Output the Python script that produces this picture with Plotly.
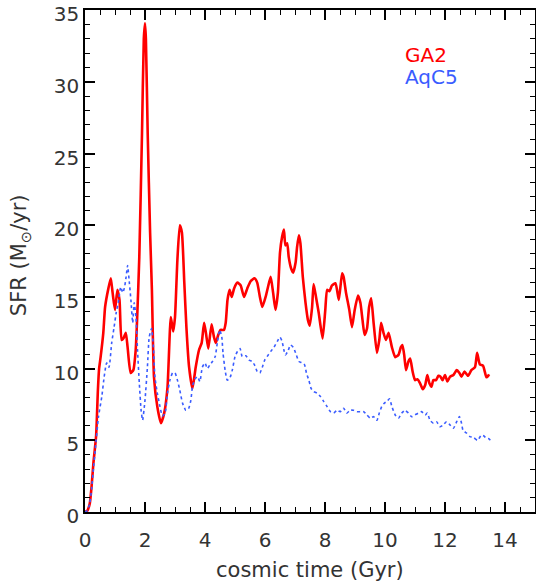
import plotly.graph_objects as go

# GA2 (red, solid)
ga2_t = [0.0, 0.08, 0.16, 0.22, 0.28, 0.37, 0.43, 0.47, 0.52, 0.61, 0.67, 0.78, 0.86, 0.92, 1.0, 1.08, 1.15,
         1.22, 1.28, 1.36, 1.42, 1.52, 1.61, 1.69, 1.74, 1.81, 1.9, 1.96, 2.0, 2.03, 2.09, 2.17, 2.23, 2.3, 2.41,
         2.53, 2.64, 2.75, 2.86, 2.94, 3.0, 3.08, 3.16, 3.23, 3.31, 3.38, 3.47, 3.58, 3.69, 3.8, 3.89, 3.97, 4.03,
         4.11, 4.22, 4.3, 4.36, 4.44, 4.52, 4.63, 4.69, 4.75, 4.82, 4.89, 4.97, 5.08, 5.19, 5.3, 5.41, 5.52, 5.65,
         5.74, 5.83, 5.91, 6.02, 6.1, 6.19, 6.27, 6.35, 6.43, 6.5, 6.57, 6.63, 6.68, 6.74, 6.79, 6.87, 6.94, 7.02,
         7.07, 7.13, 7.18, 7.26, 7.35, 7.43, 7.49, 7.57, 7.62, 7.7, 7.79, 7.92, 8.01, 8.07, 8.15, 8.23, 8.35, 8.46,
         8.57, 8.62, 8.7, 8.81, 8.9, 8.99, 9.1, 9.18, 9.25, 9.32, 9.4, 9.47, 9.54, 9.62, 9.73, 9.81, 9.87, 9.95,
         10.03, 10.12, 10.23, 10.34, 10.45, 10.53, 10.58, 10.64, 10.7, 10.78, 10.84, 10.92, 11.0, 11.08, 11.17,
         11.26, 11.34, 11.41, 11.48, 11.55, 11.61, 11.7, 11.78, 11.85, 11.92, 12.0, 12.08, 12.17, 12.28, 12.39,
         12.48, 12.55, 12.65, 12.77, 12.88, 13.0, 13.07, 13.16, 13.27, 13.38, 13.44, 13.47]
ga2_sfr = [0.0, 0.1, 0.6, 1.8, 3.4, 5.3, 8.5, 10.0, 10.8, 12.5, 14.3, 15.6, 16.3, 15.3, 14.1, 15.5, 14.8,
           12.0, 12.1, 12.5, 11.5, 9.7, 9.9, 11.3, 13.6, 17.8, 26.4, 33.0, 34.1, 33.0, 26.4, 19.5, 15.5, 9.4, 7.35,
           6.2, 6.9, 8.7, 13.6, 12.6, 13.6, 17.6, 20.0, 19.5, 16.0, 12.9, 10.1, 8.6, 10.1, 11.3, 11.8, 13.2, 12.5,
           11.4, 13.1, 12.2, 11.8, 12.35, 12.7, 12.7, 13.2, 14.8, 15.5, 15.0, 15.6, 16.0, 15.8, 15.0, 15.6, 16.1, 16.3,
           16.0, 15.0, 14.3, 15.0, 15.7, 16.4, 15.3, 14.1, 15.3, 18.1, 19.2, 19.7, 18.6, 18.75, 17.8, 17.0, 16.7, 17.4,
           18.5, 19.3, 18.75, 16.4, 14.6, 13.4, 13.0, 14.3, 15.9, 15.0, 13.9, 12.1, 14.1, 15.5, 15.4, 15.8, 15.96, 14.8,
           16.65, 16.4, 15.3, 14.1, 12.9, 14.1, 15.1, 14.6, 13.4, 12.35, 12.8, 14.3, 14.9, 13.2, 11.1, 12.0, 13.2, 12.5,
           12.0, 12.5, 11.5, 10.8, 10.96, 11.5, 11.65, 10.96, 9.9, 10.5, 10.7, 9.8, 9.2, 9.26, 8.98,
           8.56, 8.86, 9.56, 8.98, 8.74, 9.2, 9.2, 9.5, 9.44, 9.2, 9.56, 9.1, 9.44, 9.56, 9.9,
           9.7, 9.44, 9.8, 9.5, 9.9, 10.1, 11.1, 10.3, 10.2, 9.4, 9.5, 9.6]

# AqC5 (blue, dotted)
aqc5_t = [0.0, 0.08, 0.16, 0.22, 0.28, 0.34, 0.45, 0.56, 0.64, 0.72, 0.8, 0.89, 0.97, 1.04, 1.11, 1.19, 1.26,
          1.32, 1.37, 1.42, 1.48, 1.53, 1.59, 1.64, 1.7, 1.75, 1.81, 1.87, 1.92, 2.0, 2.08, 2.14, 2.22, 2.28, 2.33,
          2.41, 2.5, 2.58, 2.67, 2.75, 2.83, 2.92, 3.0, 3.08, 3.16, 3.25, 3.36, 3.45, 3.53, 3.58, 3.67, 3.75, 3.83,
          3.91, 4.0, 4.08, 4.16, 4.25, 4.34, 4.41, 4.49, 4.56, 4.6, 4.67, 4.74, 4.82, 4.91, 5.0, 5.08, 5.17, 5.24,
          5.36, 5.47, 5.57, 5.65, 5.74, 5.83, 5.91, 5.99, 6.07, 6.19, 6.3, 6.41, 6.5, 6.57, 6.63, 6.68, 6.76, 6.85,
          6.94, 7.02, 7.13, 7.24, 7.32, 7.38, 7.46, 7.54, 7.62, 7.73, 7.85, 7.96, 8.07, 8.18, 8.29, 8.4, 8.51, 8.62,
          8.73, 8.84, 8.95, 9.06, 9.18, 9.29, 9.4, 9.51, 9.62, 9.73, 9.81, 9.89, 9.98, 10.06, 10.15, 10.23, 10.34,
          10.45, 10.56, 10.67, 10.78, 10.89, 11.0, 11.11, 11.22, 11.34, 11.41, 11.5, 11.61, 11.72, 11.83, 11.94,
          12.05, 12.17, 12.28, 12.39, 12.48, 12.55, 12.6, 12.72, 12.83, 12.95, 13.08, 13.22, 13.3, 13.38, 13.47, 13.55]
aqc5_sfr = [0.0, 0.1, 0.6, 1.6, 3.0, 4.3, 6.65, 8.05, 9.44, 10.4, 10.1, 11.8, 12.9, 13.9, 14.6, 15.7, 15.3,
            15.7, 16.4, 17.2, 15.96, 14.8, 13.2, 14.6, 13.6, 11.3, 9.0, 7.1, 6.4, 7.8, 10.1, 12.2, 12.8, 11.5, 9.44,
            8.3, 7.35, 6.7, 6.9, 8.3, 9.2, 9.7, 9.7, 9.2, 8.5, 7.6, 7.1, 7.2, 7.8, 8.75, 9.3, 9.44, 9.1,
            10.1, 10.4, 10.0, 10.26, 10.5, 10.84, 11.8, 12.7, 12.2, 11.1, 9.9, 9.2, 9.3, 9.9, 10.84, 11.2, 11.4, 10.84,
            10.9, 10.6, 10.5, 10.26, 9.8, 9.7, 10.1, 10.6, 10.84, 11.2, 11.5, 11.9, 12.2, 11.9, 11.3, 10.96, 11.2, 11.65,
            11.5, 11.1, 10.5, 10.4, 10.26, 9.7, 9.2, 8.6, 8.4, 8.3, 8.05, 7.7, 7.35, 7.0, 6.9, 7.1, 7.0, 7.24,
            6.9, 7.1, 7.1, 7.0, 7.0, 7.0, 6.77, 6.54, 6.65, 6.4, 6.9, 7.35, 7.6, 7.7, 7.9, 7.35, 6.77,
            6.54, 6.9, 7.1, 6.9, 6.65, 6.77, 6.9, 7.0, 6.77, 6.9, 6.4, 6.2, 6.3, 5.95, 6.07,
            6.3, 6.07, 5.84, 6.3, 6.65, 6.2, 5.7, 5.5, 5.26, 5.2, 5.0, 5.37, 5.3, 5.14, 5.1, 4.9]

assert len(ga2_t) == len(ga2_sfr), (len(ga2_t), len(ga2_sfr))
assert len(aqc5_t) == len(aqc5_sfr), (len(aqc5_t), len(aqc5_sfr))

x_range = [0, 15]
y_range = [0, 35.02]
x_major, x_minor = 2, 0.5
y_major, y_minor = 5, 1

FONT = "DejaVu Sans"
TXT = "#333333"

fig = go.Figure()
fig.add_trace(go.Scatter(x=ga2_t, y=ga2_sfr, mode="lines", name="GA2",
                         line=dict(color="#ff0000", width=2.6, shape="spline", smoothing=0.5)))
fig.add_trace(go.Scatter(x=aqc5_t, y=aqc5_sfr, mode="lines", name="AqC5",
                         line=dict(color="#3a5cff", width=1.6, dash="dot", shape="spline", smoothing=0.5)))
# invisible copies that carry the tick-only axes (bottom/left and top/right)
for xa, ya in (("x2", "y2"), ("x3", "y3")):
    fig.add_trace(go.Scatter(x=ga2_t, y=ga2_sfr, xaxis=xa, yaxis=ya, mode="lines",
                             line=dict(width=0, color="rgba(0,0,0,0)"), showlegend=False, hoverinfo="skip"))


def tick_axis(major, minor, rng, side, overlay):
    return dict(range=rng, overlaying=overlay, side=side, showticklabels=False,
                showline=True, linecolor="black", linewidth=1.5,
                ticks="inside", ticklen=10, tickwidth=1.5, tickcolor="black", dtick=major,
                minor=dict(dtick=minor, ticklen=5, ticks="inside", tickcolor="black", tickwidth=1),
                showgrid=False, zeroline=False)


fig.update_layout(
    xaxis=dict(range=x_range, dtick=x_major, showline=True, linecolor="black", linewidth=1.5,
               ticks="", ticklabelstandoff=9, showgrid=False, zeroline=False,
               ticklabeloverflow="allow",
               tickfont=dict(family=FONT, size=20, color=TXT)),
    yaxis=dict(range=y_range, dtick=y_major, showline=True, linecolor="black", linewidth=1.5,
               ticks="", ticklabelstandoff=0, ticklabelshift=4, showgrid=False, zeroline=False,
               ticklabeloverflow="allow",
               tickfont=dict(family=FONT, size=20, color=TXT)),
    xaxis2=tick_axis(x_major, x_minor, x_range, "top", "x"),
    yaxis2=tick_axis(y_major, y_minor, y_range, "right", "y"),
    xaxis3=tick_axis(x_major, x_minor, x_range, "bottom", "x"),
    yaxis3=tick_axis(y_major, y_minor, y_range, "left", "y"),
)

fig.add_annotation(text="GA2", xref="paper", yref="paper", x=0.707, y=0.91,
                   xanchor="left", yanchor="middle", showarrow=False,
                   font=dict(family=FONT, size=20, color="#ff0000"))
fig.add_annotation(text="AqC5", xref="paper", yref="paper", x=0.707, y=0.866,
                   xanchor="left", yanchor="middle", showarrow=False,
                   font=dict(family=FONT, size=20, color="#3a5cff"))
fig.add_annotation(text="cosmic time (Gyr)", xref="paper", yref="paper", x=0.499, y=-0.115,
                   xanchor="center", yanchor="middle", showarrow=False,
                   font=dict(family=FONT, size=21, color=TXT))
fig.add_annotation(text="SFR (M<sub>⊙</sub>/yr)", xref="paper", yref="paper", x=-0.144, y=0.512,
                   xanchor="center", yanchor="middle", showarrow=False, textangle=-90,
                   font=dict(family=FONT, size=21, color=TXT))

fig.update_layout(width=536, height=584,
                  margin=dict(l=85, r=1, t=10, b=72, autoexpand=False),
                  paper_bgcolor="white", plot_bgcolor="white", showlegend=False)

fig.write_html("out.html", config={"displayModeBar": False},
               post_script="document.body.style.margin='0';document.body.style.padding='0';")
